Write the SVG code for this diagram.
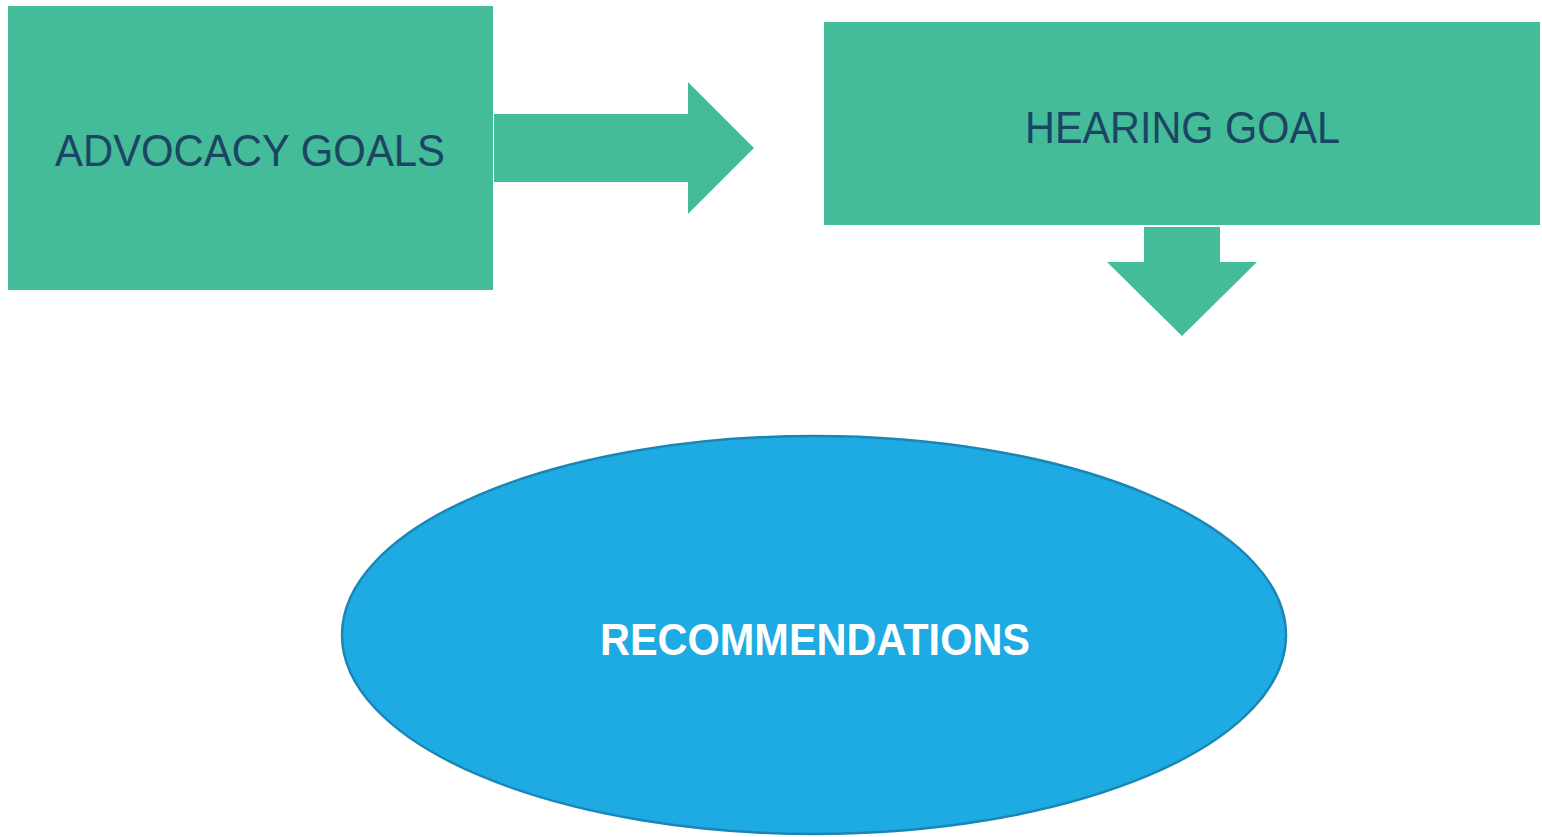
<svg xmlns="http://www.w3.org/2000/svg" width="1542" height="837" viewBox="0 0 1542 837">
<style>
.g{fill:#44bb99}
.t{font-family:"Liberation Sans",Arial,sans-serif;fill:#1b4563;font-size:45px}
.w{font-family:"Liberation Sans",Arial,sans-serif;fill:#ffffff;font-size:45px;font-weight:bold}
</style>
<rect width="1542" height="837" fill="#ffffff"/>
<g id="connectors">
<polygon class="g" points="494,114 688,114 688,82 754,148 688,214 688,182 494,182"/>
<polygon class="g" points="1144,227 1220,227 1220,262 1257,262 1182,336 1107,262 1144,262"/>
</g>
<g id="advocacy">
<rect class="g" x="8" y="6" width="485" height="284"/>
<text class="t" x="55" y="166" textLength="390" lengthAdjust="spacingAndGlyphs">ADVOCACY GOALS</text>
</g>
<g id="hearing">
<rect class="g" x="824" y="22" width="716" height="203"/>
<text class="t" x="1025" y="143" textLength="315" lengthAdjust="spacingAndGlyphs">HEARING GOAL</text>
</g>
<g id="recommendations">
<ellipse cx="814" cy="635" rx="472" ry="199" fill="#1eabe3" stroke="#1a86b6" stroke-width="2.5"/>
<text class="w" x="600" y="655" textLength="430" lengthAdjust="spacingAndGlyphs">RECOMMENDATIONS</text>
</g>
</svg>
